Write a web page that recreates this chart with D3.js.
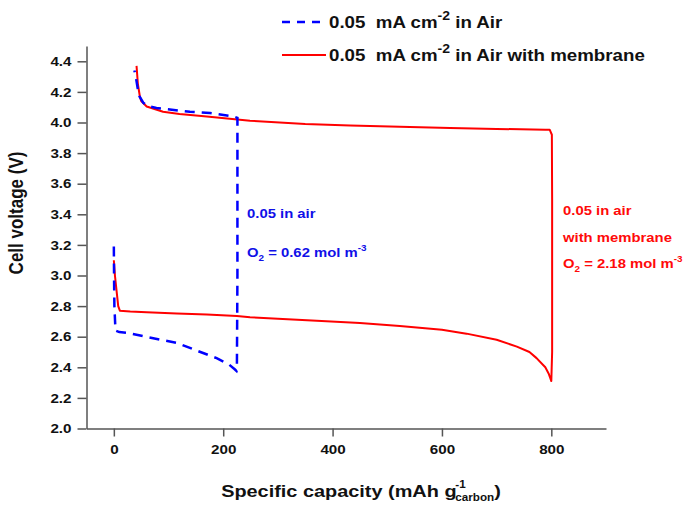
<!DOCTYPE html>
<html>
<head>
<meta charset="utf-8">
<script src="https://cdn.jsdelivr.net/npm/d3@7"></script>
<style>
  html, body { margin: 0; padding: 0; background: #fff; }
  text { font-family: "Liberation Sans", Arial, sans-serif; font-weight: bold; }
</style>
</head>
<body>
<svg id="chart" width="685" height="507"></svg>
<script>
// ---- data ----
const xTicks = [0, 200, 400, 600, 800];
const yTicks = [2.0, 2.2, 2.4, 2.6, 2.8, 3.0, 3.2, 3.4, 3.6, 3.8, 4.0, 4.2, 4.4];

// 0.05 mA cm-2 in Air (blue, dashed): discharge then charge, in drawing order
const airDischargeCap = [0, 0.5, 1, 3, 10, 23, 72, 115, 151, 188, 210, 221, 224.5];
const airDischargeV   = [3.19, 2.95, 2.80, 2.64, 2.63, 2.626, 2.59, 2.56, 2.51, 2.46, 2.42, 2.387, 2.375];
const airChargeCap = [225, 226, 226, 218, 176, 139, 78, 60, 53.7, 47, 44, 41, 38.5, 37.5];
const airChargeV   = [2.38, 3.00, 4.03, 4.04, 4.062, 4.07, 4.095, 4.11, 4.13, 4.17, 4.215, 4.28, 4.326, 4.34];

// 0.05 mA cm-2 in Air with membrane (red, solid)
const memDischargeCap = [0, 2, 5, 8, 11, 30, 60, 115, 170, 225, 249, 300, 371, 450, 523, 600, 645, 700, 737, 760, 773, 789, 795, 798, 800];
const memDischargeV   = [3.10, 3.00, 2.90, 2.80, 2.77, 2.765, 2.76, 2.752, 2.745, 2.735, 2.727, 2.718, 2.705, 2.69, 2.67, 2.645, 2.62, 2.58, 2.535, 2.50, 2.46, 2.40, 2.36, 2.33, 2.31];
const memChargeCap = [800, 801.5, 801.5, 801, 797, 789, 700, 615, 523, 432, 350, 249, 170, 120, 90, 60, 50, 47.6, 44, 41.5];
const memChargeV   = [2.31, 2.50, 3.50, 3.92, 3.953, 3.953, 3.958, 3.964, 3.972, 3.98, 3.99, 4.012, 4.04, 4.055, 4.07, 4.105, 4.14, 4.17, 4.25, 4.37];

// ---- layout ----
const S = 1.17; // horizontal glyph stretch seen in the reference
const svg = d3.select("#chart");
const x = d3.scaleLinear().domain([-50, 900]).range([86.5, 606]);
const y = d3.scaleLinear().domain([2.0, 4.5]).range([428.5, 46]);

const axisColor = "#555";

// axes
const gx = svg.append("g").attr("transform", `translate(0,${y(2.0)})`)
  .call(d3.axisBottom(x).tickValues(xTicks).tickSize(8).tickSizeOuter(0).tickPadding(8).tickFormat(d3.format("d")));
const gy = svg.append("g").attr("transform", `translate(${x(-50)},0)`)
  .call(d3.axisLeft(y).tickValues(yTicks).tickSize(9).tickSizeOuter(0).tickPadding(6).tickFormat(d3.format(".1f")));

[gx, gy].forEach(g => {
  g.select(".domain").attr("stroke", axisColor).attr("stroke-width", 1.5);
  g.selectAll(".tick line").attr("stroke", axisColor).attr("stroke-width", 1.5);
  g.selectAll(".tick text").attr("fill", "#111").attr("font-size", 13)
    .style("font-family", '"Liberation Sans", Arial, sans-serif').style("font-weight", "bold");
});
gx.selectAll(".tick text").attr("transform", `scale(${S},1)`);
gy.selectAll(".tick text").attr("x", -15 / S).attr("transform", `scale(${S},1)`);

// lines
const line = d3.line().x(d => x(d[0])).y(d => y(d[1]));
const airPts = airDischargeCap.map((c, i) => [c, airDischargeV[i]])
  .concat(airChargeCap.map((c, i) => [c, airChargeV[i]]));
const memPts = memDischargeCap.map((c, i) => [c, memDischargeV[i]])
  .concat(memChargeCap.map((c, i) => [c, memChargeV[i]]));

svg.append("path").datum(memPts).attr("d", line)
  .attr("fill", "none").attr("stroke", "#ff0000").attr("stroke-width", 2).attr("stroke-linejoin", "round");
svg.append("path").datum(airPts).attr("d", line)
  .attr("fill", "none").attr("stroke", "#0000ff").attr("stroke-width", 2.5).attr("stroke-dasharray", "10,7");

// axis titles
svg.append("text").attr("transform", `translate(23,213) scale(${S},1) rotate(-90)`)
  .attr("text-anchor", "middle").attr("font-size", 17).attr("fill", "#111")
  .text("Cell voltage (V)");

const xt = svg.append("text").attr("transform", `translate(361,497) scale(${S},1)`)
  .attr("text-anchor", "middle").attr("font-size", 17).attr("fill", "#111");
xt.append("tspan").text("Specific capacity (mAh g");
xt.append("tspan").attr("font-size", 10).attr("dy", -9).attr("dx", -1).text("-1");
xt.append("tspan").attr("font-size", 10).attr("dy", 13).attr("dx", -9).text("carbon");
xt.append("tspan").attr("dy", -4).text(")");

// legend
const legend = [
  { y: 22, color: "#0000ff", dash: "8,7", width: 2.5, rest: " in Air" },
  { y: 55, color: "#ff0000", dash: null, width: 2, rest: " in Air with membrane" }
];
legend.forEach(l => {
  svg.append("line").attr("x1", 282).attr("x2", 326).attr("y1", l.y).attr("y2", l.y)
    .attr("stroke", l.color).attr("stroke-width", l.width).attr("stroke-dasharray", l.dash);
  const t = svg.append("text").attr("transform", `translate(329,${l.y + 6}) scale(${S},1)`)
    .attr("font-size", 16).attr("fill", "#111").attr("xml:space", "preserve");
  t.append("tspan").text("0.05  mA cm");
  t.append("tspan").attr("font-size", 12).attr("dy", -8).text("-2");
  t.append("tspan").attr("dy", 8).text(l.rest);
});

// annotations
function annot(x0, y0, color, parts) {
  const t = svg.append("text").attr("transform", `translate(${x0},${y0}) scale(1.1,1)`)
    .attr("font-size", 13.5).attr("fill", color);
  parts.forEach(p => {
    const ts = t.append("tspan").text(p.t);
    if (p.fs) ts.attr("font-size", p.fs);
    if (p.dy) ts.attr("dy", p.dy);
  });
}
const blue = "#1010e8", red = "#ff0a0a";
annot(247, 218, blue, [{ t: "0.05 in air" }]);
annot(247, 257, blue, [{ t: "O" }, { t: "2", fs: 9, dy: 4 }, { t: " = 0.62 mol m", dy: -4 }, { t: "-3", fs: 9, dy: -6 }]);
annot(563, 215, red, [{ t: "0.05 in air" }]);
annot(563, 242, red, [{ t: "with membrane" }]);
annot(563, 268, red, [{ t: "O" }, { t: "2", fs: 9, dy: 4 }, { t: " = 2.18 mol m", dy: -4 }, { t: "-3", fs: 9, dy: -6 }]);
</script>
</body>
</html>
